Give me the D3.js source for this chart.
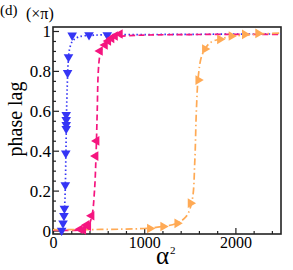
<!DOCTYPE html>
<html>
<head>
<meta charset="utf-8">
<script src="https://cdn.jsdelivr.net/npm/d3@7"></script>
<style>
  body { margin: 0; background: #fff; }
  text { font-family: "Liberation Serif", "Times New Roman", serif; fill: #000; }
</style>
</head>
<body>
<div id="chart"></div>
<script>
// data: [alpha^2, phase lag (x pi)]
var bluePoints = [[95, 0.0], [110, 0.036], [120, 0.074], [125, 0.11], [135, 0.228], [140, 0.387],
    [145, 0.51], [145, 0.53], [145, 0.555], [145, 0.58], [160, 0.79], [170, 0.87],
    [210, 0.978], [395, 0.98], [595, 0.98]];
var blueCurve = [[90, 0.0], [110, 0.03], [125, 0.1], [135, 0.22], [142, 0.4], [148, 0.58],
    [156, 0.72], [166, 0.84], [182, 0.91], [215, 0.95], [280, 0.97], [450, 0.979], [1000, 0.982], [2500, 0.985]];

var pinkPoints = [[296, 0.006], [332, 0.003], [369, 0.028], [387, 0.02], [423, 0.074], [467, 0.373],
    [478, 0.449], [515, 0.90], [570, 0.93], [606, 0.95], [642, 0.963], [680, 0.975], [734, 0.985]];
var pinkCurve = [[0, 0.002], [300, 0.004], [380, 0.02], [425, 0.07], [455, 0.2], [472, 0.38],
    [485, 0.6], [497, 0.8], [515, 0.88], [545, 0.92], [600, 0.95], [700, 0.97], [900, 0.978], [2500, 0.983]];

var orangePoints = [[1062, 0.01], [1208, 0.02], [1362, 0.036], [1508, 0.137], [1592, 0.754],
    [1665, 0.91], [1830, 0.958], [1957, 0.975], [2103, 0.983], [2249, 0.988]];
var orangeCurve = [[0, 0.004], [1000, 0.01], [1200, 0.02], [1350, 0.035], [1460, 0.07], [1525, 0.15],
    [1555, 0.35], [1572, 0.6], [1595, 0.78], [1635, 0.88], [1720, 0.94], [1850, 0.962], [2050, 0.978], [2500, 0.99]];

var xTicks = [0, 1000, 2000];
var yTicks = [0, 0.2, 0.4, 0.6, 0.8, 1];

var width = 293, height = 270;
var margin = {top: 27, right: 12, bottom: 36, left: 53};

var svg = d3.select("#chart").append("svg")
    .attr("width", width)
    .attr("height", height);

var x = d3.scaleLinear().domain([0, 2500]).range([margin.left, width - margin.right]);
var y = d3.scaleLinear().domain([-0.0175, 1.02]).range([height - margin.bottom, margin.top]);

// clip so the curves stay in the frame
svg.append("clipPath").attr("id", "clip")
  .append("rect")
    .attr("x", margin.left).attr("y", margin.top)
    .attr("width", width - margin.left - margin.right)
    .attr("height", height - margin.top - margin.bottom);

// axes, ticks pointing inward
var xMinor = d3.range(0, 2501, 200).filter(d => d % 1000 !== 0);
var yMinor = d3.range(0, 1.001, 0.05).filter(d => Math.abs(d * 5 - Math.round(d * 5)) > 0.01);

var gx = svg.append("g").attr("transform", "translate(0," + y.range()[0] + ")");
gx.call(d3.axisBottom(x).tickValues(xMinor).tickSize(-3).tickFormat(""));
gx.call(g => g.append("g").call(d3.axisBottom(x).tickValues(xTicks).tickSize(-6).tickPadding(3).tickFormat(d3.format("d"))));

var gy = svg.append("g").attr("transform", "translate(" + margin.left + ",0)");
gy.call(d3.axisLeft(y).tickValues(yMinor).tickSize(-3).tickFormat(""));
gy.call(g => g.append("g").call(d3.axisLeft(y).tickValues(yTicks).tickSize(-6).tickPadding(2)
    .tickFormat(d => d === 0 || d === 1 ? d3.format("d")(d) : d3.format(".1f")(d))));

svg.selectAll(".domain").remove();
svg.selectAll(".tick line").attr("stroke", "#222").attr("stroke-width", 1.2);
svg.selectAll(".tick text").attr("fill", "#000");
gx.selectAll(".tick text").style("font-size", "16px");
gy.selectAll(".tick text").style("font-size", "17px").attr("dy", "0.35em");

// frame
svg.append("rect")
    .attr("x", margin.left).attr("y", margin.top)
    .attr("width", width - margin.left - margin.right)
    .attr("height", height - margin.top - margin.bottom)
    .attr("fill", "none")
    .attr("stroke", "#222")
    .attr("stroke-width", 1.6);

var line = d3.line()
    .x(d => x(d[0]))
    .y(d => y(d[1]))
    .curve(d3.curveCatmullRom);

var series = [
    {curve: blueCurve, points: bluePoints, color: "#3535f5", dash: "1.5,2.5", rot: 180},
    {curve: pinkCurve, points: pinkPoints, color: "#f5157f", dash: "6,3.5", rot: -90},
    {curve: orangeCurve, points: orangePoints, color: "#ffaa55", dash: "7,3,1.5,3", rot: 90}
];

var plot = svg.append("g").attr("clip-path", "url(#clip)");
var tri = d3.symbol().type(d3.symbolTriangle).size(40);

series.forEach(function(s) {
    plot.append("path")
        .datum(s.curve)
        .attr("d", line)
        .attr("fill", "none")
        .attr("stroke", s.color)
        .attr("stroke-width", 1.7)
        .attr("stroke-dasharray", s.dash);

    svg.append("g").selectAll("path")
        .data(s.points)
        .enter().append("path")
        .attr("d", tri)
        .attr("fill", s.color)
        .attr("transform", d => "translate(" + x(d[0]) + "," + y(d[1]) + ") rotate(" + s.rot + ")");
});

// labels
svg.append("text").attr("x", 0).attr("y", 15).style("font-size", "15px").text("(d)");
svg.append("text").attr("x", 26).attr("y", 19).style("font-size", "16px").text("(×π)");
svg.append("text")
    .attr("transform", "translate(22,119) rotate(-90)")
    .attr("text-anchor", "middle")
    .style("font-size", "20px")
    .text("phase lag");
svg.append("text")
    .attr("x", 156).attr("y", 264)
    .style("font-size", "25px")
    .text("α");
svg.append("text")
    .attr("x", 170).attr("y", 254)
    .style("font-size", "11px")
    .text("2");
</script>
</body>
</html>
